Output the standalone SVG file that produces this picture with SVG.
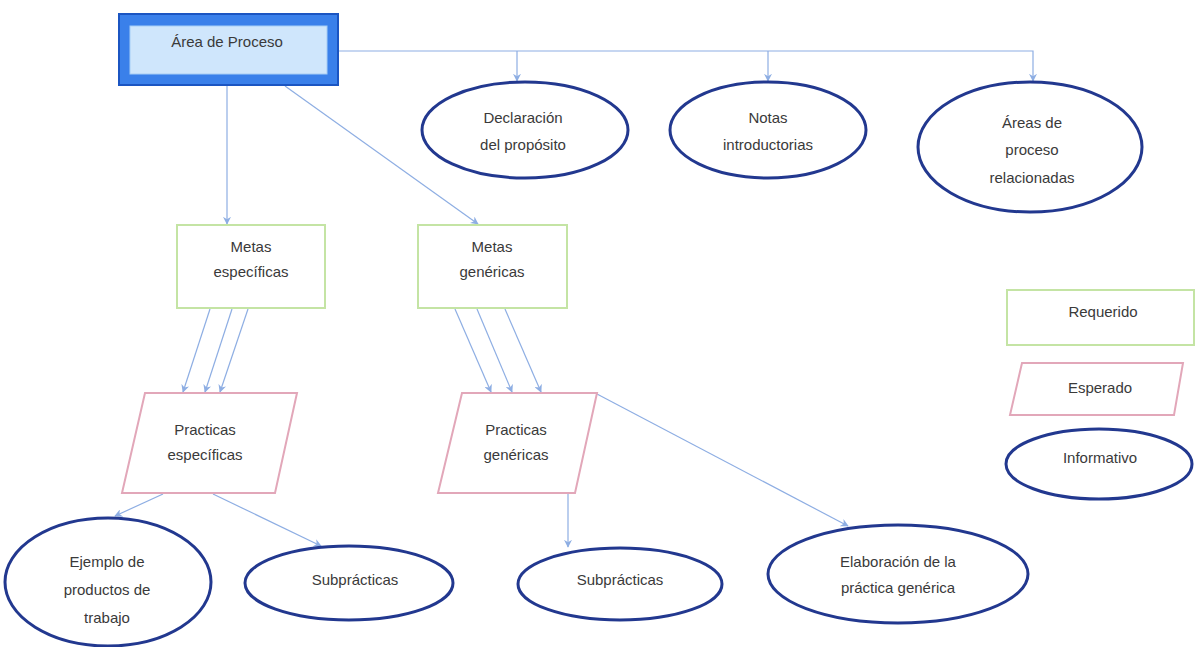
<svg xmlns="http://www.w3.org/2000/svg" width="1196" height="647" viewBox="0 0 1196 647">
  <style>
    text { font-family: "Liberation Sans", Arial, sans-serif; font-size: 15px; fill: #3a3a3a; text-anchor: middle; }
    .req { fill: #ffffff; stroke: #c4e4a4; stroke-width: 2; }
    .esp { fill: #ffffff; stroke: #e2a7b9; stroke-width: 2; }
    .inf { fill: #ffffff; stroke: #22388f; stroke-width: 3; }
    .conn { fill: none; stroke: #8eaee3; stroke-width: 1.2; }
  </style>
  <defs>
    <marker id="arrow" viewBox="0 0 10 10" refX="9" refY="5" markerWidth="8" markerHeight="8" markerUnits="userSpaceOnUse" orient="auto">
      <path d="M0,0 L10,5 L0,10 L3,5 Z" fill="#8eaee3"/>
    </marker>
  </defs>

  <rect width="1196" height="647" fill="#ffffff"/>

  <!-- connectors -->
  <g id="connectors" class="conn">
    <path class="conn" d="M339,51 H1033 V81" marker-end="url(#arrow)"/>
    <path class="conn" d="M517,51 V81" marker-end="url(#arrow)"/>
    <path class="conn" d="M768,51 V81" marker-end="url(#arrow)"/>
    <path class="conn" d="M227,86 V224" marker-end="url(#arrow)"/>
    <path class="conn" d="M285,86 L478,224" marker-end="url(#arrow)"/>
    <path class="conn" d="M210,309 L183,392" marker-end="url(#arrow)"/>
    <path class="conn" d="M232,309 L205,392" marker-end="url(#arrow)"/>
    <path class="conn" d="M248,309 L220,392" marker-end="url(#arrow)"/>
    <path class="conn" d="M455,309 L491,392" marker-end="url(#arrow)"/>
    <path class="conn" d="M477,309 L512,392" marker-end="url(#arrow)"/>
    <path class="conn" d="M505,309 L541,392" marker-end="url(#arrow)"/>
    <path class="conn" d="M163,494 L115,516" marker-end="url(#arrow)"/>
    <path class="conn" d="M213,494 L321,546" marker-end="url(#arrow)"/>
    <path class="conn" d="M568,494 V547" marker-end="url(#arrow)"/>
    <path class="conn" d="M597,394 L848,526" marker-end="url(#arrow)"/>
  </g>

  <!-- process area -->
  <g id="area-proceso">
    <rect x="119" y="14" width="219" height="71" fill="#3a80ea" stroke="#1b55c2" stroke-width="2"/>
    <rect x="130" y="26" width="197" height="48" fill="#cfe6fc" stroke="#a6cdf5" stroke-width="1"/>
    <text x="227" y="47">Área de Proceso</text>
  </g>

  <!-- informative top row -->
  <g id="declaracion">
    <ellipse class="inf" cx="525" cy="130" rx="103" ry="48"/>
    <text x="523" y="123">Declaración</text>
    <text x="523" y="150">del propósito</text>
  </g>
  <g id="notas">
    <ellipse class="inf" cx="768" cy="130" rx="98" ry="48"/>
    <text x="768" y="123">Notas</text>
    <text x="768" y="150">introductorias</text>
  </g>
  <g id="areas-relacionadas">
    <ellipse class="inf" cx="1030" cy="147" rx="112" ry="65"/>
    <text x="1032" y="128">Áreas de</text>
    <text x="1032" y="155">proceso</text>
    <text x="1032" y="183">relacionadas</text>
  </g>

  <!-- goals -->
  <g id="metas-especificas">
    <rect class="req" x="177" y="225" width="148" height="83"/>
    <text x="251" y="252">Metas</text>
    <text x="251" y="277">específicas</text>
  </g>
  <g id="metas-genericas">
    <rect class="req" x="418" y="225" width="149" height="83"/>
    <text x="492" y="252">Metas</text>
    <text x="492" y="277">genéricas</text>
  </g>

  <!-- practices -->
  <g id="practicas-especificas">
    <polygon class="esp" points="145,393 297,393 275,493 122,493"/>
    <text x="205" y="435">Practicas</text>
    <text x="205" y="460">específicas</text>
  </g>
  <g id="practicas-genericas">
    <polygon class="esp" points="462,393 597,393 575,493 438,493"/>
    <text x="516" y="435">Practicas</text>
    <text x="516" y="460">genéricas</text>
  </g>

  <!-- bottom informative row -->
  <g id="ejemplo-productos">
    <ellipse class="inf" cx="108" cy="582" rx="103" ry="64"/>
    <text x="107" y="567">Ejemplo de</text>
    <text x="107" y="595">productos de</text>
    <text x="107" y="623">trabajo</text>
  </g>
  <g id="subpracticas-1">
    <ellipse class="inf" cx="349" cy="583" rx="104" ry="37"/>
    <text x="355" y="585">Subprácticas</text>
  </g>
  <g id="subpracticas-2">
    <ellipse class="inf" cx="620" cy="584" rx="102" ry="36"/>
    <text x="620" y="585">Subprácticas</text>
  </g>
  <g id="elaboracion">
    <ellipse class="inf" cx="898" cy="574" rx="130" ry="49"/>
    <text x="898" y="567">Elaboración de la</text>
    <text x="898" y="593">práctica genérica</text>
  </g>

  <!-- legend -->
  <g id="leyenda-requerido">
    <rect class="req" x="1007" y="290" width="187" height="55"/>
    <text x="1103" y="317">Requerido</text>
  </g>
  <g id="leyenda-esperado">
    <polygon class="esp" points="1022,363 1183,363 1174,415 1010,415"/>
    <text x="1100" y="393">Esperado</text>
  </g>
  <g id="leyenda-informativo">
    <ellipse class="inf" cx="1099" cy="464" rx="93" ry="35"/>
    <text x="1100" y="463">Informativo</text>
  </g>
</svg>
